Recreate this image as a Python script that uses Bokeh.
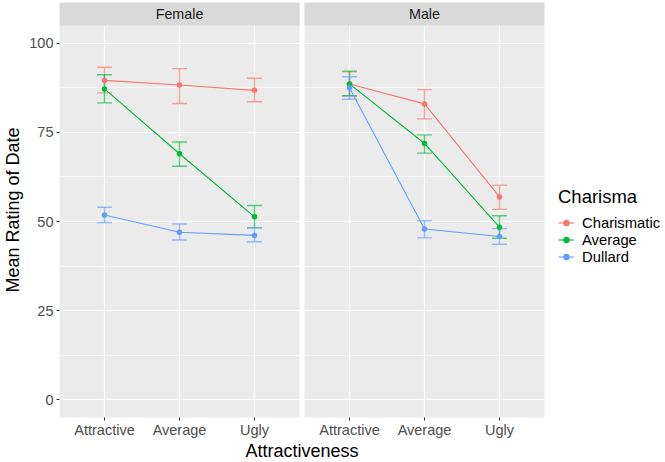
from bokeh.plotting import figure
from bokeh.models import FixedTicker, Legend, LegendItem, Range1d
from bokeh.embed import file_html
from bokeh.resources import INLINE
from bokeh.core.properties import value

# ---------------- data ----------------
attractiveness = ["Attractive", "Average", "Ugly"]
genders = ["Female", "Male"]
charisma = ["Charismatic", "Average", "Dullard"]
colors = ["#F8766D", "#00BA38", "#619CFF"]

female_charismatic_mean = [89.6, 88.3, 86.8]
female_charismatic_low = [86.1, 83.1, 83.6]
female_charismatic_high = [93.3, 92.9, 90.2]
female_average_mean = [87.2, 69.0, 51.3]
female_average_low = [83.3, 65.5, 48.2]
female_average_high = [91.2, 72.3, 54.5]
female_dullard_mean = [51.8, 47.0, 46.1]
female_dullard_low = [49.7, 44.8, 44.3]
female_dullard_high = [54.0, 49.3, 48.2]

male_charismatic_mean = [88.6, 83.0, 56.9]
male_charismatic_low = [85.2, 78.8, 53.4]
male_charismatic_high = [92.0, 87.0, 60.2]
male_average_mean = [88.6, 71.9, 48.4]
male_average_low = [85.3, 69.2, 45.3]
male_average_high = [92.2, 74.3, 51.6]
male_dullard_mean = [87.5, 47.9, 45.8]
male_dullard_low = [84.3, 45.4, 43.6]
male_dullard_high = [90.6, 50.2, 48.0]

y_ticks = [0, 25, 50, 75, 100]
y_minor = [12.5, 37.5, 62.5, 87.5]

series = {
    "Female": [
        (female_charismatic_mean, female_charismatic_low, female_charismatic_high),
        (female_average_mean, female_average_low, female_average_high),
        (female_dullard_mean, female_dullard_low, female_dullard_high),
    ],
    "Male": [
        (male_charismatic_mean, male_charismatic_low, male_charismatic_high),
        (male_average_mean, male_average_low, male_average_high),
        (male_dullard_mean, male_dullard_low, male_dullard_high),
    ],
}

# ---------------- layout constants ----------------
FONT = "Liberation Sans"
frame_w = 485
frame_h = 415
strip_px = 23
panel_span = 3.2            # discrete axis 0.4 .. 3.6
px_per_unit = 75.0
gap = 5 / px_per_unit
offset = panel_span + gap
y_lo, y_hi = -5, 105
panel_h = frame_h - strip_px
y_top = y_hi + strip_px * (y_hi - y_lo) / panel_h

x_lo = 0.4
x_hi = 0.4 + 2 * panel_span + gap

p = figure(
    frame_width=frame_w, frame_height=frame_h,
    x_range=Range1d(x_lo, x_hi), y_range=Range1d(y_lo, y_top),
    output_backend="svg", toolbar_location=None,
    min_border_left=59, min_border_top=2, min_border_bottom=0, min_border_right=121,
)
p.background_fill_color = "#EBEBEB"
p.border_fill_color = "white"
p.outline_line_color = None

# gap between panels (white) and strips
p.quad(left=[3.6], right=[3.6 + gap], bottom=[y_lo], top=[y_top],
       fill_color="white", line_color=None)
strip_left = [0.4, 0.4 + offset]
strip_right = [3.6, 3.6 + offset]
p.quad(left=strip_left, right=strip_right, bottom=[y_hi] * 2, top=[y_top] * 2,
       fill_color="#D9D9D9", line_color=None)
p.text(x=[(a + b) / 2 for a, b in zip(strip_left, strip_right)],
       y=[(y_hi + y_top) / 2] * 2, text=genders,
       text_align="center", text_baseline="middle",
       text_font=value(FONT), text_font_size="14.3px", text_color="#1A1A1A")

legend_renderers = {c: [] for c in charisma}
for gi, g in enumerate(genders):
    xs = [i + 1 + gi * offset for i in range(len(attractiveness))]
    for ci, (m, lo, hi) in enumerate(series[g]):
        col = colors[ci]
        # error bars
        p.segment(x0=xs, x1=xs, y0=lo, y1=hi, line_color=col, line_alpha=0.65, line_width=1.4)
        p.segment(x0=[x - 0.1 for x in xs], x1=[x + 0.1 for x in xs], y0=lo, y1=lo,
                  line_color=col, line_alpha=0.65, line_width=1.4)
        p.segment(x0=[x - 0.1 for x in xs], x1=[x + 0.1 for x in xs], y0=hi, y1=hi,
                  line_color=col, line_alpha=0.65, line_width=1.4)
    for ci, (m, lo, hi) in enumerate(series[g]):
        col = colors[ci]
        lr = p.line(xs, m, line_color=col, line_width=1.1)
        sr = p.scatter(xs, m, size=5.5, fill_color=col, line_color=None)
        if gi == 0:
            legend_renderers[charisma[ci]] = [lr, sr]

# axes
tick_x = [i + 1 + gi * offset for gi in range(len(genders)) for i in range(len(attractiveness))]
tick_lbl = [a for gi in range(len(genders)) for a in attractiveness]
p.xaxis.ticker = FixedTicker(ticks=tick_x)
p.xaxis.major_label_overrides = {t: l for t, l in zip(tick_x, tick_lbl)}
p.yaxis.ticker = FixedTicker(ticks=y_ticks, minor_ticks=y_minor)

for ax in (p.xaxis[0], p.yaxis[0]):
    ax.axis_line_color = None
    ax.major_tick_line_color = "#333333"
    ax.major_tick_out = 3
    ax.major_tick_in = 0
    ax.minor_tick_line_color = None
    ax.major_label_text_font = FONT
    ax.major_label_text_font_size = "14.5px"
    ax.major_label_text_color = "#4D4D4D"
    ax.axis_label_text_font = FONT
    ax.axis_label_text_font_size = "18px"
    ax.axis_label_text_font_style = "normal"
    ax.axis_label_text_color = "black"

p.xaxis.major_label_standoff = 1
p.xaxis.axis_label_standoff = 0
p.yaxis.major_label_standoff = 2
p.yaxis.axis_label_standoff = 3

p.xaxis.axis_label = "Attractiveness"
p.yaxis.axis_label = "Mean Rating of Date"
p.yaxis.major_label_orientation = "horizontal"

p.xgrid.grid_line_color = "white"
p.xgrid.grid_line_width = 1.2
p.ygrid.grid_line_color = "white"
p.ygrid.grid_line_width = 1.2
p.ygrid.minor_grid_line_color = "white"
p.ygrid.minor_grid_line_width = 0.6

legend = Legend(
    items=[LegendItem(label=c, renderers=legend_renderers[c]) for c in charisma],
    title="Charisma",
    location=(14, 152),
    orientation="vertical",
)
legend.title_text_font = FONT
legend.title_text_font_size = "18.5px"
legend.title_text_font_style = "normal"
legend.title_text_color = "black"
legend.title_standoff = 6
legend.label_text_font = FONT
legend.label_text_font_size = "14.8px"
legend.label_text_color = "black"
legend.glyph_width = 16
legend.glyph_height = 17
legend.label_height = 17
legend.spacing = 0
legend.label_standoff = 8
legend.padding = 4
legend.margin = 0
legend.border_line_color = None
legend.background_fill_color = "white"
p.add_layout(legend, "right")

open("out.html", "w").write(file_html(p, INLINE))
